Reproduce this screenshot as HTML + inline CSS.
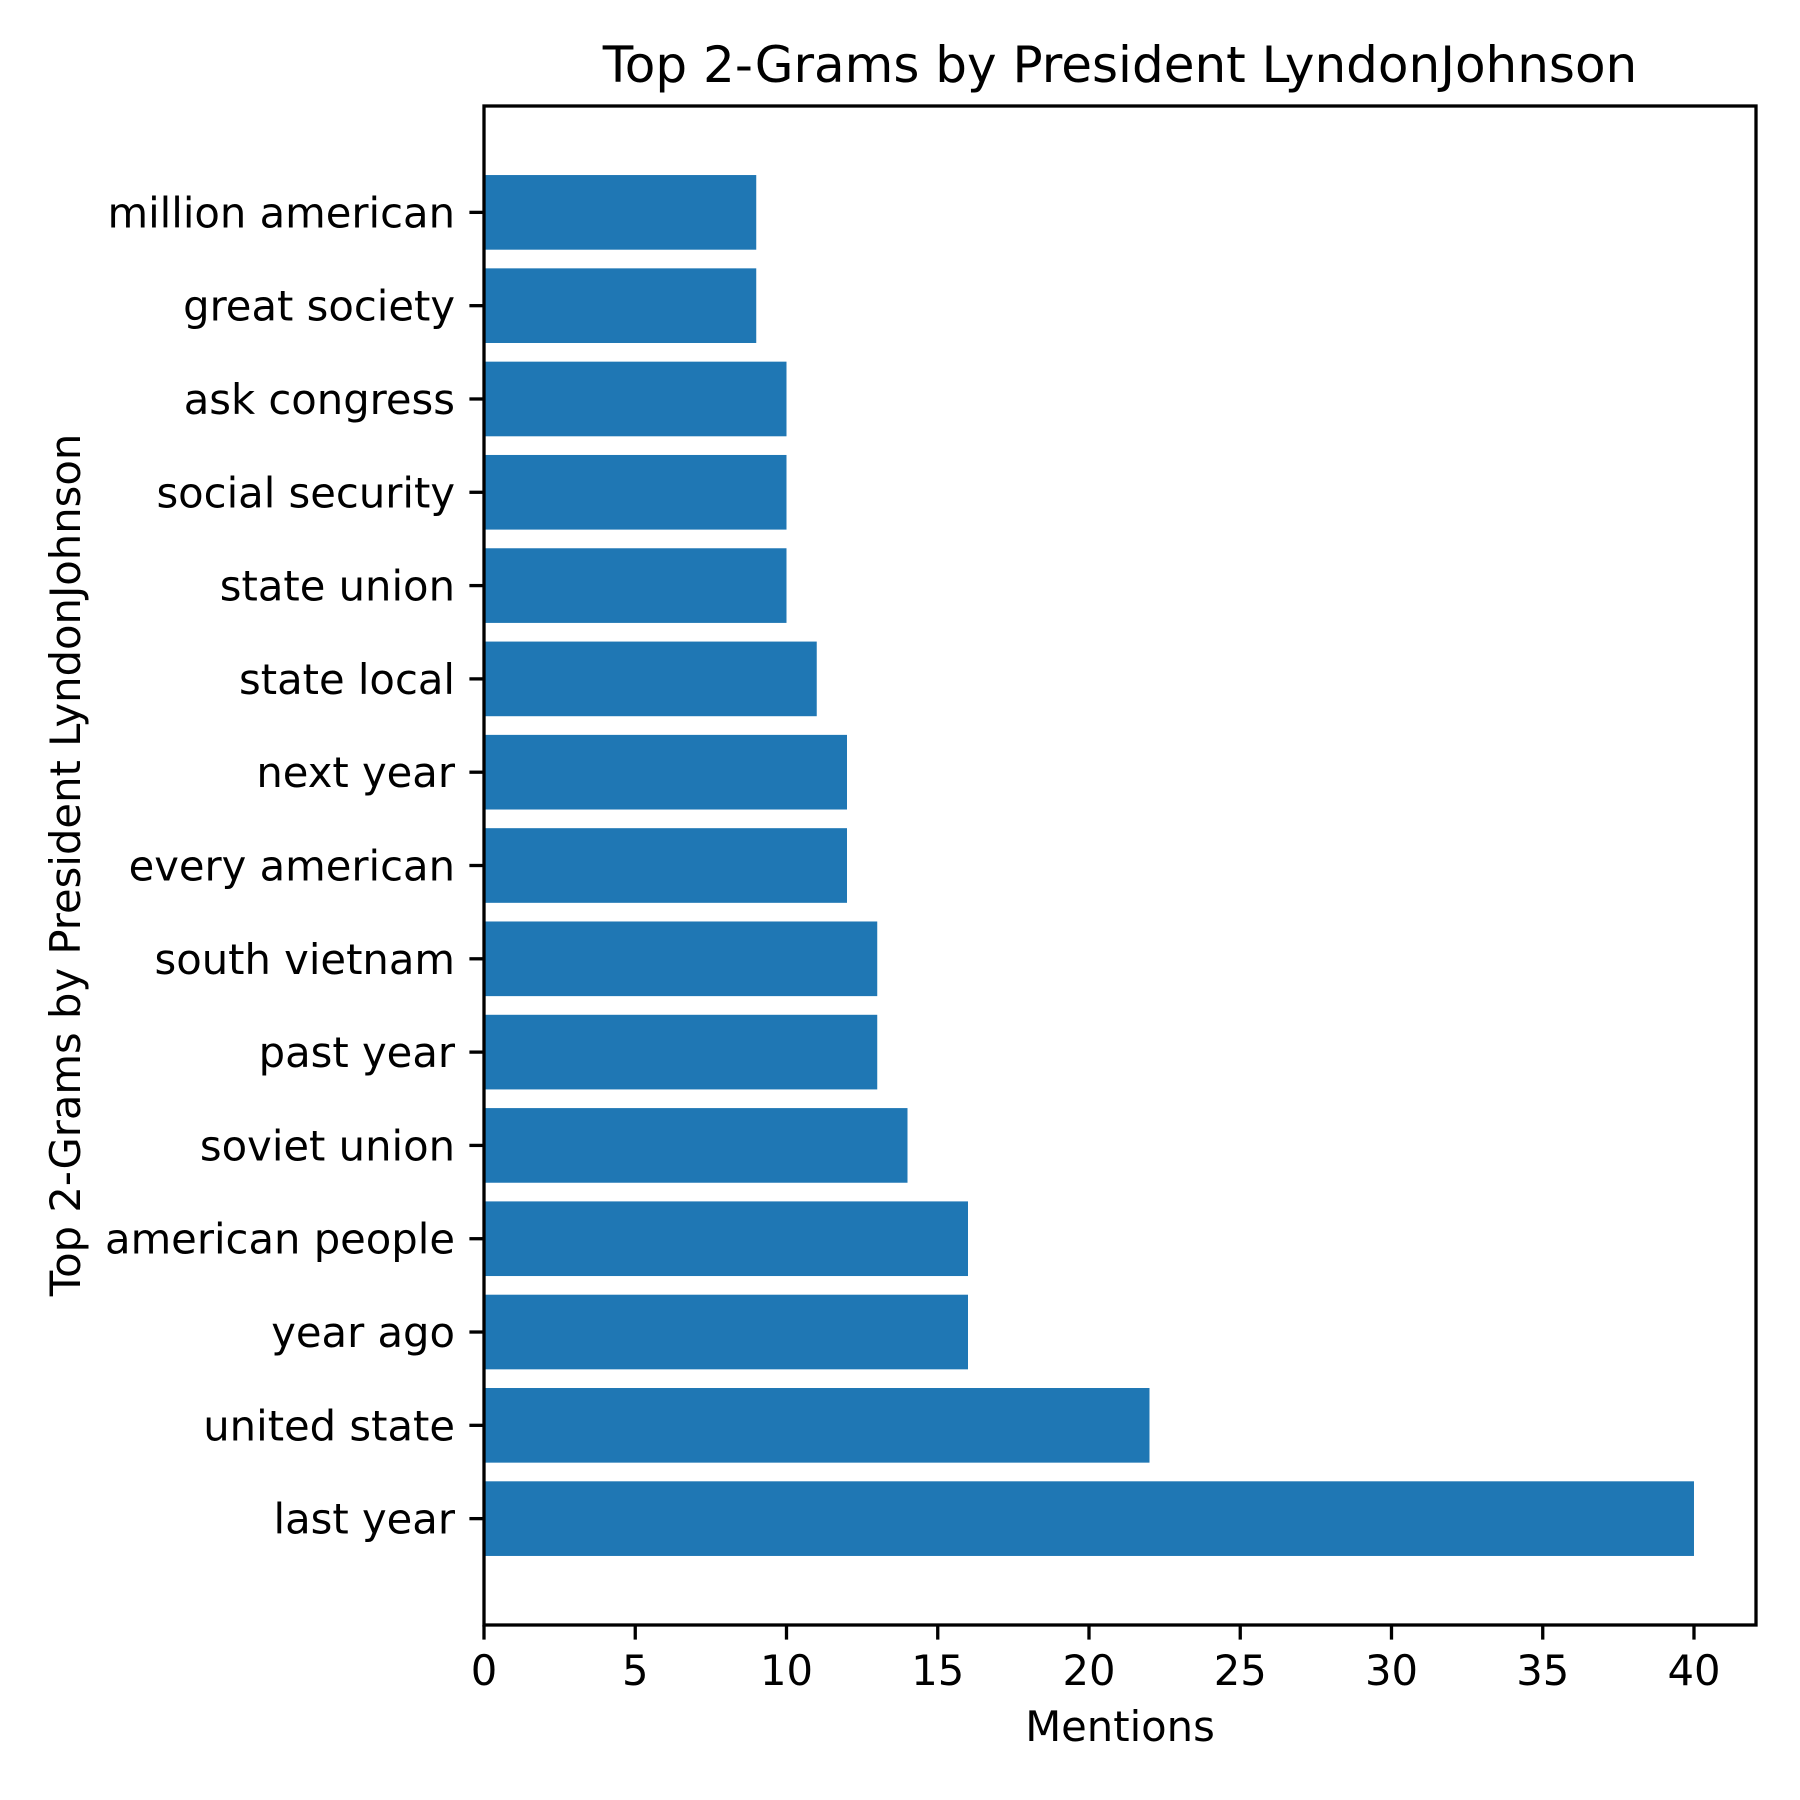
<!DOCTYPE html>
<html><head><meta charset="utf-8"><style>body{margin:0;background:#fff}svg{display:block}text{font-family:"DejaVu Sans","Liberation Sans",sans-serif;fill:#000}</style></head>
<body>
<svg id="chart" width="1800" height="1800" viewBox="0 0 1800 1800" xmlns="http://www.w3.org/2000/svg">
<rect width="1800" height="1800" fill="#fff"/>
<g id="bars"></g><g id="ticks"></g>
<rect x="484" y="106" width="1272" height="1519" fill="none" stroke="#000" stroke-width="3.3"/>
<text x="1120" y="82" font-size="50" text-anchor="middle">Top 2-Grams by President LyndonJohnson</text>
<text x="1120" y="1741" font-size="41.7" text-anchor="middle">Mentions</text>
<text transform="translate(80,865) rotate(-90)" font-size="41.7" text-anchor="middle">Top 2-Grams by President LyndonJohnson</text>
</svg>
<script>
const categories = ["last year","united state","year ago","american people","soviet union","past year","south vietnam","every american","next year","state local","state union","social security","ask congress","great society","million american"];
const mentions = [40,22,16,16,14,13,13,12,12,11,10,10,10,9,9];
const xTicks = [0,5,10,15,20,25,30,35,40];
const NS="http://www.w3.org/2000/svg";
const L=484,R=1756,T=106,B=1625,xMax=42.05,yMin=-1.14,yMax=15.14;
const xs=v=>L+v*(R-L)/xMax;
const ys=v=>T+(yMax-v)*(B-T)/(yMax-yMin);
const bars=document.getElementById('bars'),ticks=document.getElementById('ticks');
function mk(tag,attrs,parent){const e=document.createElementNS(NS,tag);for(const k in attrs)e.setAttribute(k,attrs[k]);parent.appendChild(e);return e;}
categories.forEach((c,i)=>{
  const y0=ys(i+0.4),y1=ys(i-0.4);
  const r=mk('rect',{x:xs(0),y:y0,width:xs(mentions[i])-xs(0),height:y1-y0,fill:'#1f77b4'},bars);
  
  
  const tk=mk('line',{x1:L,x2:L-14.6,y1:ys(i),y2:ys(i),stroke:'#000','stroke-width':3.3},ticks);
  
  
  const t=mk('text',{x:L-29,y:ys(i)+15,'font-size':41.7,'text-anchor':'end'},ticks);
  t.textContent=c;
  
  
});
xTicks.forEach(v=>{
  const tk=mk('line',{x1:xs(v),x2:xs(v),y1:B,y2:B+14.6,stroke:'#000','stroke-width':3.3},ticks);
  
  
  const t=mk('text',{x:xs(v),y:1685,'font-size':41.7,'text-anchor':'middle'},ticks);
  t.textContent=v;
  
  
});
</script>
</body></html>
